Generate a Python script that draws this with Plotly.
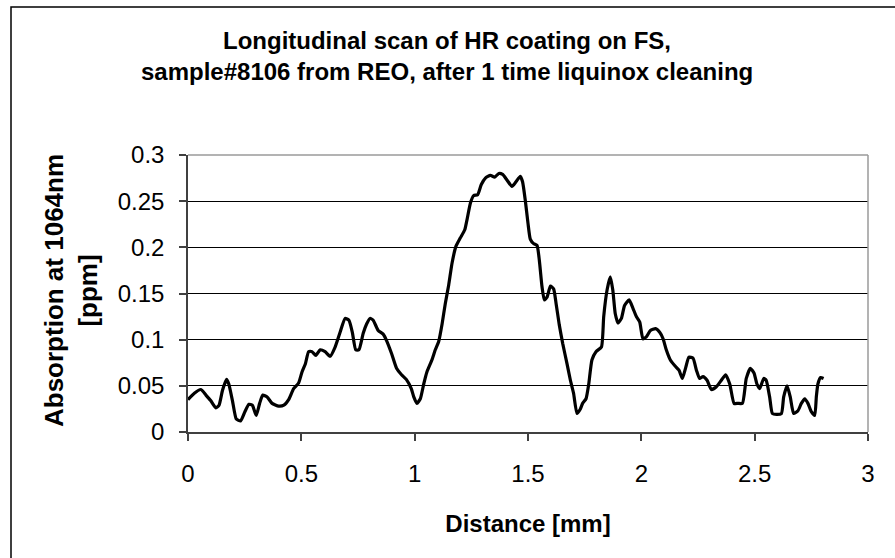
import plotly.graph_objects as go

distance_mm = [
    0.0, 0.028, 0.057, 0.079, 0.10, 0.123, 0.137, 0.152, 0.170, 0.18, 0.196, 0.213, 0.232,
    0.251, 0.269, 0.284, 0.301, 0.316, 0.330, 0.349, 0.371, 0.40, 0.423, 0.444, 0.466,
    0.488, 0.503, 0.518, 0.532, 0.547, 0.564, 0.583, 0.605, 0.627, 0.649, 0.671, 0.693,
    0.71, 0.725, 0.74, 0.754, 0.773, 0.788, 0.803, 0.817, 0.839, 0.861, 0.876, 0.898,
    0.92, 0.942, 0.963, 0.985, 0.996, 1.01, 1.025, 1.04, 1.054, 1.076, 1.091, 1.106,
    1.121, 1.135, 1.15, 1.165, 1.182, 1.201, 1.221, 1.231, 1.246, 1.26, 1.278, 1.294,
    1.312, 1.334, 1.353, 1.371, 1.388, 1.407, 1.429, 1.447, 1.466, 1.476, 1.488, 1.5,
    1.51, 1.525, 1.54, 1.55, 1.562, 1.572, 1.584, 1.599, 1.613, 1.624, 1.638, 1.653,
    1.672, 1.687, 1.701, 1.716, 1.731, 1.741, 1.756, 1.768, 1.782, 1.8, 1.824, 1.834,
    1.849, 1.863, 1.874, 1.885, 1.897, 1.912, 1.926, 1.946, 1.963, 1.978, 1.993, 2.007,
    2.022, 2.04, 2.063, 2.081, 2.096, 2.11, 2.128, 2.147, 2.166, 2.181, 2.196, 2.21,
    2.228, 2.243, 2.257, 2.272, 2.29, 2.309, 2.331, 2.353, 2.372, 2.39, 2.409, 2.426,
    2.446, 2.463, 2.481, 2.497, 2.51, 2.522, 2.54, 2.551, 2.566, 2.578, 2.596, 2.618,
    2.628, 2.643, 2.657, 2.672, 2.691, 2.706, 2.721, 2.735, 2.75, 2.765, 2.772, 2.779,
    2.791, 2.804,
]

absorption_ppm = [
    0.035, 0.042, 0.046, 0.040, 0.034, 0.026, 0.029, 0.045, 0.057, 0.052, 0.034, 0.014, 0.012,
    0.022, 0.030, 0.029, 0.018, 0.031, 0.040, 0.038, 0.031, 0.028, 0.029, 0.035, 0.047,
    0.053, 0.065, 0.074, 0.087, 0.087, 0.083, 0.089, 0.087, 0.082, 0.092, 0.108, 0.123,
    0.121, 0.108, 0.089, 0.089, 0.107, 0.117, 0.123, 0.121, 0.110, 0.106, 0.099, 0.085,
    0.069, 0.062, 0.057, 0.047, 0.038, 0.031, 0.036, 0.052, 0.065, 0.078, 0.089, 0.098,
    0.117, 0.139, 0.159, 0.183, 0.201, 0.210, 0.219, 0.230, 0.248, 0.256, 0.257, 0.268,
    0.275, 0.278, 0.276, 0.280, 0.279, 0.273, 0.266, 0.271, 0.277, 0.271, 0.251, 0.226,
    0.209, 0.204, 0.202, 0.186, 0.157, 0.143, 0.146, 0.158, 0.155, 0.139, 0.116, 0.096,
    0.074, 0.056, 0.042, 0.020, 0.025, 0.031, 0.036, 0.052, 0.078, 0.087, 0.092, 0.125,
    0.154, 0.168, 0.154, 0.128, 0.118, 0.123, 0.137, 0.143, 0.134, 0.125, 0.119, 0.101,
    0.103, 0.110, 0.112, 0.108, 0.101, 0.089, 0.078, 0.072, 0.067, 0.058, 0.070, 0.081,
    0.080, 0.067, 0.058, 0.060, 0.056, 0.046, 0.049, 0.056, 0.062, 0.052, 0.031, 0.031,
    0.031, 0.058, 0.069, 0.064, 0.052, 0.047, 0.058, 0.056, 0.038, 0.020, 0.019, 0.020,
    0.038, 0.050, 0.038, 0.020, 0.023, 0.031, 0.036, 0.031, 0.022, 0.018, 0.038, 0.052,
    0.059, 0.058,
]

x_ticks = [0, 0.5, 1, 1.5, 2, 2.5, 3]
x_tick_labels = ["0", "0.5", "1", "1.5", "2", "2.5", "3"]
y_ticks = [0, 0.05, 0.1, 0.15, 0.2, 0.25, 0.3]
y_tick_labels = ["0", "0.05", "0.1", "0.15", "0.2", "0.25", "0.3"]

title_line1 = "Longitudinal scan of HR coating on FS,"
title_line2 = "sample#8106 from REO, after 1 time liquinox cleaning"
x_title = "Distance [mm]"
y_title_line1 = "Absorption at 1064nm"
y_title_line2 = "[ppm]"

FONT = "Liberation Sans, Arial, sans-serif"

fig = go.Figure()
fig.add_trace(go.Scatter(
    x=distance_mm, y=absorption_ppm, mode="lines",
    line=dict(color="black", width=3.2, shape="spline", smoothing=0.5),
    showlegend=False, hoverinfo="x+y",
))

# plot area geometry (px)
L, R, T, B = 188, 27, 155, 126
W, H = 895, 558
pw, ph = W - L - R, H - T - B

def px_x(p):
    return (p - L) / pw

def px_y(p):
    return (H - B - p) / ph

fig.update_layout(
    width=W, height=H,
    margin=dict(l=L, r=R, t=T, b=B, pad=0),
    paper_bgcolor="white", plot_bgcolor="white",
    font=dict(family=FONT, color="black", size=24),
    xaxis=dict(
        range=[0, 3], tickvals=x_ticks, ticktext=x_tick_labels,
        showgrid=False, zeroline=False, showline=True, linecolor="#404040", linewidth=1.5,
        ticks="outside", ticklen=7, tickcolor="#404040", tickwidth=1.5,
        ticklabelstandoff=12,
        tickfont=dict(size=24),
        title=dict(text=x_title, font=dict(size=24, family=FONT, weight="bold"), standoff=30),
    ),
    yaxis=dict(
        range=[0, 0.3], tickvals=y_ticks, ticktext=y_tick_labels,
        showgrid=True, gridcolor="black", gridwidth=1,
        zeroline=False, showline=True, linecolor="#404040", linewidth=1.5,
        ticks="outside", ticklen=7, tickcolor="#404040", tickwidth=1.5,
        ticklabelstandoff=10,
        tickfont=dict(size=24),
    ),
    annotations=[
        dict(text="<b>" + title_line1 + "</b>", xref="paper", yref="paper",
             x=px_x(447), y=px_y(40), xanchor="center", yanchor="middle",
             showarrow=False, font=dict(size=24, family=FONT)),
        dict(text="<b>" + title_line2 + "</b>", xref="paper", yref="paper",
             x=px_x(447), y=px_y(72), xanchor="center", yanchor="middle",
             showarrow=False, font=dict(size=24, family=FONT)),
        dict(text="<b>" + y_title_line1 + "</b><br><b>" + y_title_line2 + "</b>",
             xref="paper", yref="paper",
             x=px_x(71), y=px_y(291), xanchor="center", yanchor="middle",
             textangle=-90, showarrow=False, font=dict(size=26, family=FONT)),
    ],
    shapes=[
        dict(type="line", xref="paper", yref="paper", x0=0, x1=1, y0=1, y1=1,
             line=dict(color="#9a9a9a", width=1.5)),
        dict(type="line", xref="paper", yref="paper", x0=1, x1=1, y0=0, y1=1,
             line=dict(color="#9a9a9a", width=1.5)),
        dict(type="rect", xref="paper", yref="paper",
             x0=px_x(11), x1=px_x(905), y0=px_y(7), y1=px_y(570),
             line=dict(color="black", width=1.5), layer="above"),
    ],
)

fig.write_html("out.html", config={"displayModeBar": False},
               post_script="document.body.style.margin='0';")
